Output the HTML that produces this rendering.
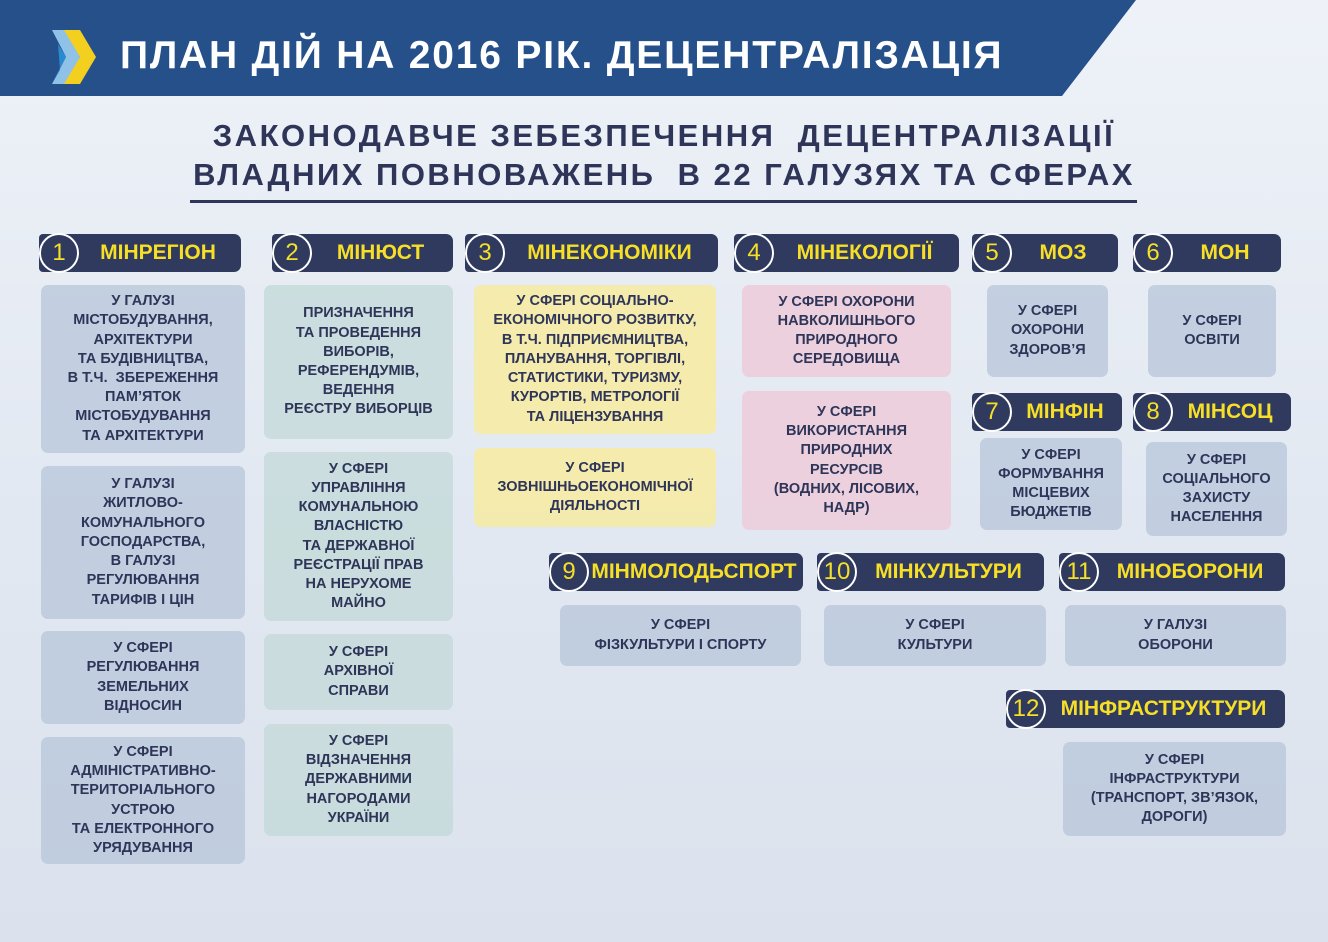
<!DOCTYPE html>
<html><head><meta charset="utf-8"><style>
body{margin:0;width:1328px;height:942px;position:relative;overflow:hidden;font-family:"Liberation Sans",sans-serif;background:linear-gradient(180deg,#eef2f8 0%,#e3e9f2 50%,#dbe2ed 100%);}
.top{position:absolute;left:0;top:0;width:1328px;height:96px;}
.t{position:absolute;left:120px;top:34px;color:#fff;font-weight:bold;font-size:39px;letter-spacing:1.8px;}
.sub{position:absolute;left:0;width:1328px;text-align:center;color:#2e3558;font-weight:bold;font-size:31px;letter-spacing:2.5px;}
.h{position:absolute;height:38px;background:#2f3a5e;border-radius:4px 7px 7px 4px;color:#f6df26;font-weight:bold;font-size:21px;line-height:38px;box-sizing:border-box;}
.h .c{position:absolute;left:0;top:-1px;width:36px;height:36px;border:2px solid #fff;border-radius:50%;text-align:center;line-height:36px;font-weight:normal;font-size:24px;background:#2f3a5e;}
.h .n{position:absolute;left:36px;right:0;top:0;text-align:center;}
.b{position:absolute;border-radius:7px;background:rgba(183,198,218,.75);color:#2e3558;font-weight:bold;font-size:14.5px;line-height:19.2px;text-align:center;display:flex;align-items:center;justify-content:center;box-sizing:border-box;padding:0 4px;}
.g{background:rgba(196,218,216,.8)}.y{background:rgba(245,235,165,.9)}.p{background:rgba(236,205,218,.9)}
</style></head><body>
<svg class="top" width="1328" height="96"><polygon points="0,0 1136,0 1062,96 0,96" fill="#25508a"/>
<polygon points="52,30 66,30 80,57 66,84 52,84 66,57" fill="#8fc2e6"/><polygon points="64,30 80,30 96,57 80,84 64,84 80,57" fill="#f3cf1f"/><polygon points="58,44 66,57 58,72 52,84 60,70" fill="#2a8ad0"/></svg>
<div class="t">ПЛАН ДІЙ НА 2016 РІК. ДЕЦЕНТРАЛІЗАЦІЯ</div>
<div class="sub" style="top:118px">ЗАКОНОДАВЧЕ ЗЕБЕЗПЕЧЕННЯ&nbsp; ДЕЦЕНТРАЛІЗАЦІЇ</div>
<div class="sub" style="top:157px">ВЛАДНИХ ПОВНОВАЖЕНЬ&nbsp; В 22 ГАЛУЗЯХ ТА СФЕРАХ</div>
<div style="position:absolute;left:190px;top:200px;width:947px;height:3px;background:#2e3558"></div>

<div class="h" style="left:39px;top:234px;width:202px"><div class="c">1</div><div class="n">МІНРЕГІОН</div></div>
<div class="h" style="left:272px;top:234px;width:181px"><div class="c">2</div><div class="n">МІНЮСТ</div></div>
<div class="h" style="left:465px;top:234px;width:253px"><div class="c">3</div><div class="n">МІНЕКОНОМІКИ</div></div>
<div class="h" style="left:734px;top:234px;width:225px"><div class="c">4</div><div class="n">МІНЕКОЛОГІЇ</div></div>
<div class="h" style="left:972px;top:234px;width:146px"><div class="c">5</div><div class="n">МОЗ</div></div>
<div class="h" style="left:1133px;top:234px;width:148px"><div class="c">6</div><div class="n">МОН</div></div>
<div class="h" style="left:972px;top:393px;width:150px"><div class="c">7</div><div class="n">МІНФІН</div></div>
<div class="h" style="left:1133px;top:393px;width:158px"><div class="c">8</div><div class="n">МІНСОЦ</div></div>
<div class="h" style="left:549px;top:553px;width:254px"><div class="c">9</div><div class="n">МІНМОЛОДЬСПОРТ</div></div>
<div class="h" style="left:817px;top:553px;width:227px"><div class="c">10</div><div class="n">МІНКУЛЬТУРИ</div></div>
<div class="h" style="left:1059px;top:553px;width:226px"><div class="c">11</div><div class="n">МІНОБОРОНИ</div></div>
<div class="h" style="left:1006px;top:690px;width:279px"><div class="c">12</div><div class="n">МІНФРАСТРУКТУРИ</div></div>

<div class="b" style="left:41px;top:285px;width:204px;height:168px">У ГАЛУЗІ<br>МІСТОБУДУВАННЯ,<br>АРХІТЕКТУРИ<br>ТА БУДІВНИЦТВА,<br>В Т.Ч.&nbsp; ЗБЕРЕЖЕННЯ<br>ПАМ’ЯТОК<br>МІСТОБУДУВАННЯ<br>ТА АРХІТЕКТУРИ</div>
<div class="b" style="left:41px;top:466px;width:204px;height:153px">У ГАЛУЗІ<br>ЖИТЛОВО-<br>КОМУНАЛЬНОГО<br>ГОСПОДАРСТВА,<br>В ГАЛУЗІ<br>РЕГУЛЮВАННЯ<br>ТАРИФІВ І ЦІН</div>
<div class="b" style="left:41px;top:631px;width:204px;height:93px">У СФЕРІ<br>РЕГУЛЮВАННЯ<br>ЗЕМЕЛЬНИХ<br>ВІДНОСИН</div>
<div class="b" style="left:41px;top:737px;width:204px;height:127px">У СФЕРІ<br>АДМІНІСТРАТИВНО-<br>ТЕРИТОРІАЛЬНОГО<br>УСТРОЮ<br>ТА ЕЛЕКТРОННОГО<br>УРЯДУВАННЯ</div>

<div class="b g" style="left:264px;top:285px;width:189px;height:154px">ПРИЗНАЧЕННЯ<br>ТА ПРОВЕДЕННЯ<br>ВИБОРІВ,<br>РЕФЕРЕНДУМІВ,<br>ВЕДЕННЯ<br>РЕЄСТРУ ВИБОРЦІВ</div>
<div class="b g" style="left:264px;top:452px;width:189px;height:169px">У СФЕРІ<br>УПРАВЛІННЯ<br>КОМУНАЛЬНОЮ<br>ВЛАСНІСТЮ<br>ТА ДЕРЖАВНОЇ<br>РЕЄСТРАЦІЇ ПРАВ<br>НА НЕРУХОМЕ<br>МАЙНО</div>
<div class="b g" style="left:264px;top:634px;width:189px;height:76px">У СФЕРІ<br>АРХІВНОЇ<br>СПРАВИ</div>
<div class="b g" style="left:264px;top:724px;width:189px;height:112px">У СФЕРІ<br>ВІДЗНАЧЕННЯ<br>ДЕРЖАВНИМИ<br>НАГОРОДАМИ<br>УКРАЇНИ</div>

<div class="b y" style="left:474px;top:285px;width:242px;height:149px">У СФЕРІ СОЦІАЛЬНО-<br>ЕКОНОМІЧНОГО РОЗВИТКУ,<br>В Т.Ч. ПІДПРИЄМНИЦТВА,<br>ПЛАНУВАННЯ, ТОРГІВЛІ,<br>СТАТИСТИКИ, ТУРИЗМУ,<br>КУРОРТІВ, МЕТРОЛОГІЇ<br>ТА ЛІЦЕНЗУВАННЯ</div>
<div class="b y" style="left:474px;top:448px;width:242px;height:79px">У СФЕРІ<br>ЗОВНІШНЬОЕКОНОМІЧНОЇ<br>ДІЯЛЬНОСТІ</div>

<div class="b p" style="left:742px;top:285px;width:209px;height:92px">У СФЕРІ ОХОРОНИ<br>НАВКОЛИШНЬОГО<br>ПРИРОДНОГО<br>СЕРЕДОВИЩА</div>
<div class="b p" style="left:742px;top:391px;width:209px;height:139px">У СФЕРІ<br>ВИКОРИСТАННЯ<br>ПРИРОДНИХ<br>РЕСУРСІВ<br>(ВОДНИХ, ЛІСОВИХ,<br>НАДР)</div>

<div class="b" style="left:987px;top:285px;width:121px;height:92px">У СФЕРІ<br>ОХОРОНИ<br>ЗДОРОВ’Я</div>
<div class="b" style="left:1148px;top:285px;width:128px;height:92px">У СФЕРІ<br>ОСВІТИ</div>
<div class="b" style="left:980px;top:438px;width:142px;height:92px">У СФЕРІ<br>ФОРМУВАННЯ<br>МІСЦЕВИХ<br>БЮДЖЕТІВ</div>
<div class="b" style="left:1146px;top:442px;width:141px;height:94px">У СФЕРІ<br>СОЦІАЛЬНОГО<br>ЗАХИСТУ<br>НАСЕЛЕННЯ</div>
<div class="b" style="left:560px;top:605px;width:241px;height:61px">У СФЕРІ<br>ФІЗКУЛЬТУРИ І СПОРТУ</div>
<div class="b" style="left:824px;top:605px;width:222px;height:61px">У СФЕРІ<br>КУЛЬТУРИ</div>
<div class="b" style="left:1065px;top:605px;width:221px;height:61px">У ГАЛУЗІ<br>ОБОРОНИ</div>
<div class="b" style="left:1063px;top:742px;width:223px;height:94px">У СФЕРІ<br>ІНФРАСТРУКТУРИ<br>(ТРАНСПОРТ, ЗВ’ЯЗОК,<br>ДОРОГИ)</div>
</body></html>
